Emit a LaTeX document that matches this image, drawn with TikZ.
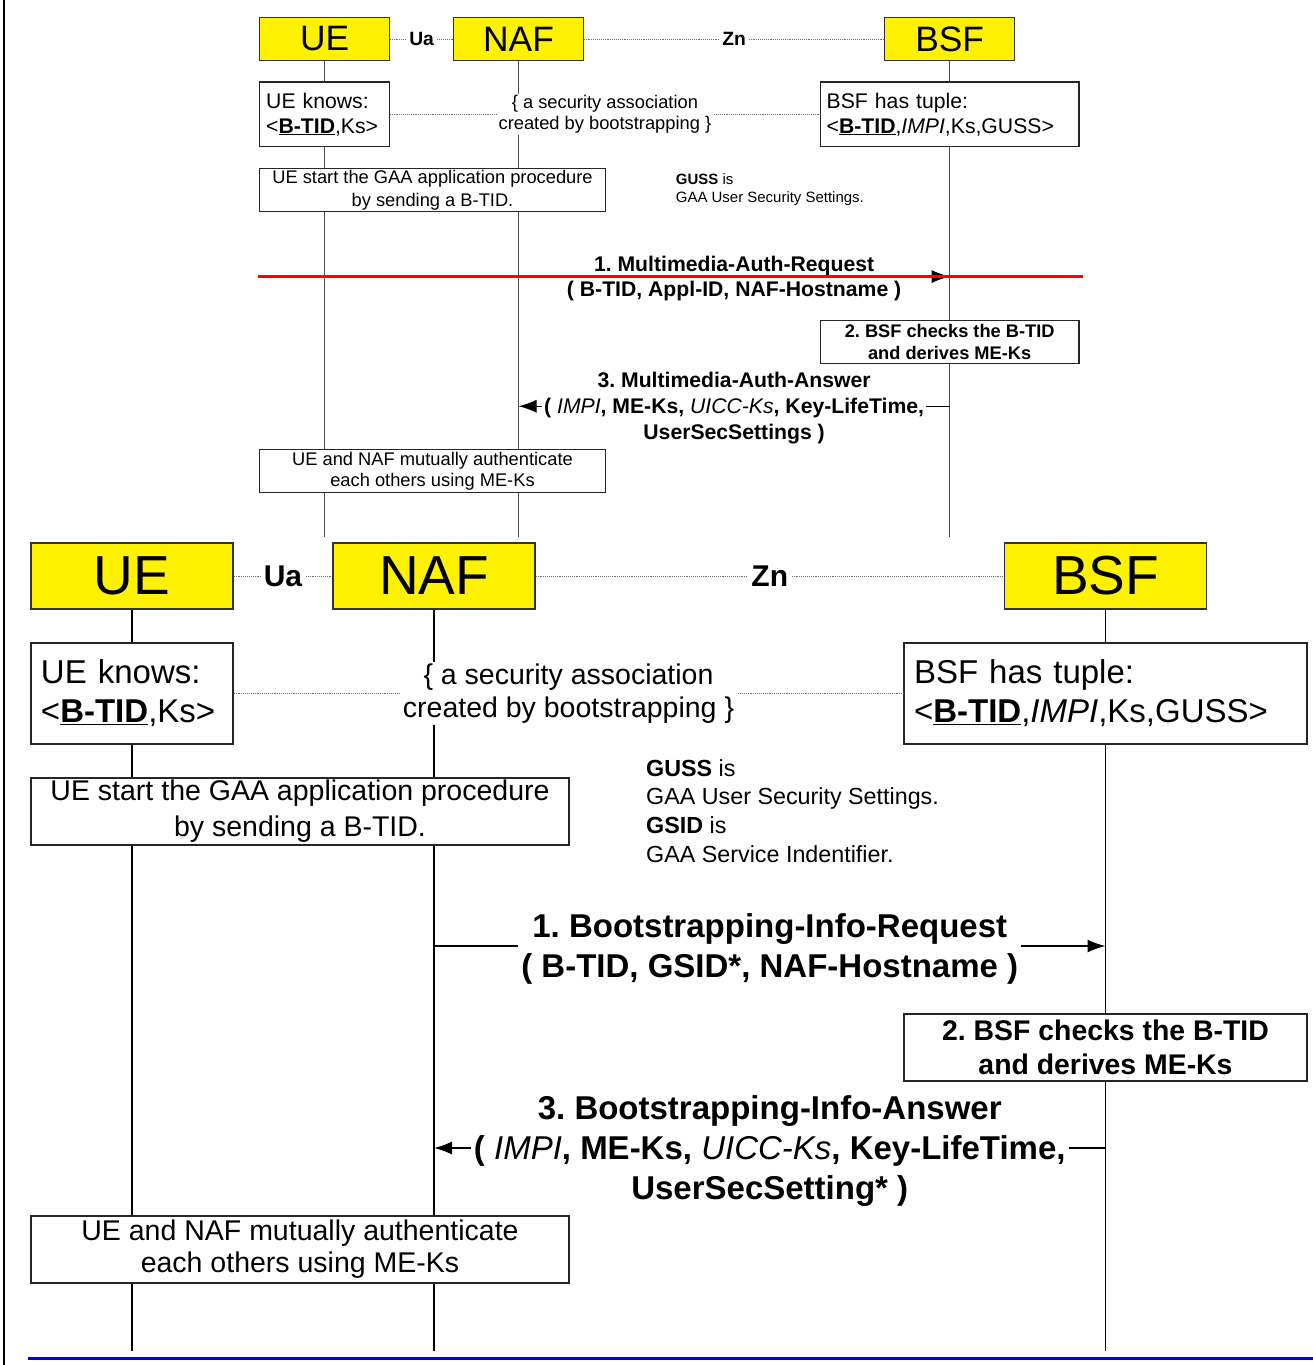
\documentclass[tikz,border=0pt]{standalone}
\usepackage{fontspec}
\setmainfont{Liberation Sans}
\usetikzlibrary{arrows.meta}
\frenchspacing
\newcommand\nit[1]{{\mdseries\itshape #1}}
\newcommand\btid{\underline{\textbf{B-TID}}}
\def\lw{1.5bp}
\def\lcol{black}
\tikzset{
 ent/.style={draw=black!80, fill=yellow, line width=\lw, minimum width=202bp, minimum height=66bp, inner sep=0pt, font=\fontsize{55bp}{60bp}\selectfont},
 life/.style={draw=\lcol, line width=\lw},
 link/.style={draw=black!55, line width=0.9bp, densely dotted},
 iface/.style={fill=white, inner sep=3bp, font=\fontsize{30bp}{34bp}\selectfont\bfseries},
 box/.style={draw=black!85, fill=white, line width=\lw, inner sep=0pt, align=center},
 knows/.style={box, minimum height=101bp, align=left, font=\fontsize{33bp}{39bp}\selectfont},
 assoc/.style={fill=white, inner xsep=3bp, inner ysep=2bp, align=center, font=\fontsize{28.5bp}{33bp}\selectfont},
 wide/.style={box, minimum width=538bp, minimum height=67bp},
 note/.style={anchor=west, inner sep=0pt, align=left, font=\fontsize{23.3bp}{28.7bp}\selectfont},
 msg/.style={draw=black, line width=\lw, -{Latex[length=18bp,width=13bp]}},
 msglabel/.style={fill=white, inner xsep=3bp, inner ysep=1bp, yshift=-3bp, align=center, font=\fontsize{33bp}{40bp}\selectfont\bfseries},
 check/.style={box, minimum width=403bp, minimum height=67bp, font=\fontsize{28.4bp}{34bp}\selectfont\bfseries},
 strike/.style={draw=red, line width=2.5bp},
 border/.style={draw=black, line width=2bp},
 rule/.style={draw=blue, line width=3bp},
}
\newcommand\seqbase[1]{%
 \node[ent] (#1ue) at (132,576) {UE};
 \node[ent] (#1naf) at (434,576) {NAF};
 \node[ent] (#1bsf) at (1105.5,576) {BSF};
 \coordinate (#1ueend) at (132,1351);
 \coordinate (#1nafend) at (434,1351);
 \coordinate (#1bsfend) at (1105.5,1351);
 \draw[life] (#1ue.south) -- (#1ueend);
 \draw[life] (#1naf.south) -- (#1nafend);
 \draw[life] (#1bsf.south) -- (#1bsfend);
 \draw[link] (#1ue.east) -- node[iface]{Ua} (#1naf.west);
 \draw[link] (#1naf.east) -- node[iface]{Zn} (#1bsf.west);
 \node[knows, minimum width=202bp, text width=182bp] (#1knows) at (132,693.5) {UE knows:\\<\btid,Ks>};
 \node[knows, minimum width=403bp, text width=383bp] (#1tuple) at (1105.5,693.5) {BSF has tuple:\\<\btid,\textit{IMPI},Ks,GUSS>};
 \draw[link] (#1knows.east) -- node[assoc]{\{ a security association\\created by bootstrapping \}} (#1tuple.west);
 \node[wide, font=\fontsize{28.5bp}{36bp}\selectfont] (#1start) at (300,811.5) {UE start the GAA application procedure\\by sending a B-TID.};
 \node[check] (#1check) at (1105.5,1047.5) {2. BSF checks the B-TID\\and derives ME-Ks};
 \node[wide, font=\fontsize{28.5bp}{32bp}\selectfont] (#1auth) at (300,1249.5) {UE and NAF mutually authenticate\\each others using ME-Ks};
 \coordinate (#1m1a) at (434,946);
 \coordinate (#1m1b) at (1105.5,946);
 \coordinate (#1m3a) at (1105.5,1148);
 \coordinate (#1m3b) at (434,1148);
}
\begin{document}
\begin{tikzpicture}[x=1bp, y=-1bp]
\useasboundingbox (0,0) rectangle (1313,1365);
\coordinate (bordtop) at (4,0);
\coordinate (bordbot) at (4,1365);
\draw[border] (bordtop) -- (bordbot);
\coordinate (rulea) at (28,1358);
\coordinate (ruleb) at (1313,1358);
\draw[rule] (rulea) -- (ruleb);
% upper (scaled) diagram
\begin{scope}[shift={(239.9,-330.8)}, scale=0.642, transform shape]
 \def\lw{1.1bp}\def\lcol{black!70}
 \seqbase{t}
 \node[note] (tnote) at (679,811) {\textbf{GUSS} is\\GAA User Security Settings.};
 \draw[msg] (tm1a) -- node[msglabel]{1. Multimedia-Auth-Request\\( B-TID, Appl-ID, NAF-Hostname )} (tm1b);
 \draw[msg] (tm3a) -- node[msglabel]{3. Multimedia-Auth-Answer\\( \nit{IMPI}, ME-Ks, \nit{UICC-Ks}, Key-LifeTime,\\UserSecSettings )} (tm3b);
 \coordinate (treda) at (28,946);
 \coordinate (tredb) at (1313,946);
 \draw[strike] (treda) -- (tredb);
\end{scope}
% lower diagram
\seqbase{b}
\node[note] (bnote) at (646,811) {\textbf{GUSS} is\\GAA User Security Settings.\\\textbf{GSID} is\\GAA Service Indentifier.};
\draw[msg] (bm1a) -- node[msglabel]{1. Bootstrapping-Info-Request\\( B-TID, GSID*, NAF-Hostname )} (bm1b);
\draw[msg] (bm3a) -- node[msglabel]{3. Bootstrapping-Info-Answer\\( \nit{IMPI}, ME-Ks, \nit{UICC-Ks}, Key-LifeTime,\\UserSecSetting* )} (bm3b);
\end{tikzpicture}
\end{document}
